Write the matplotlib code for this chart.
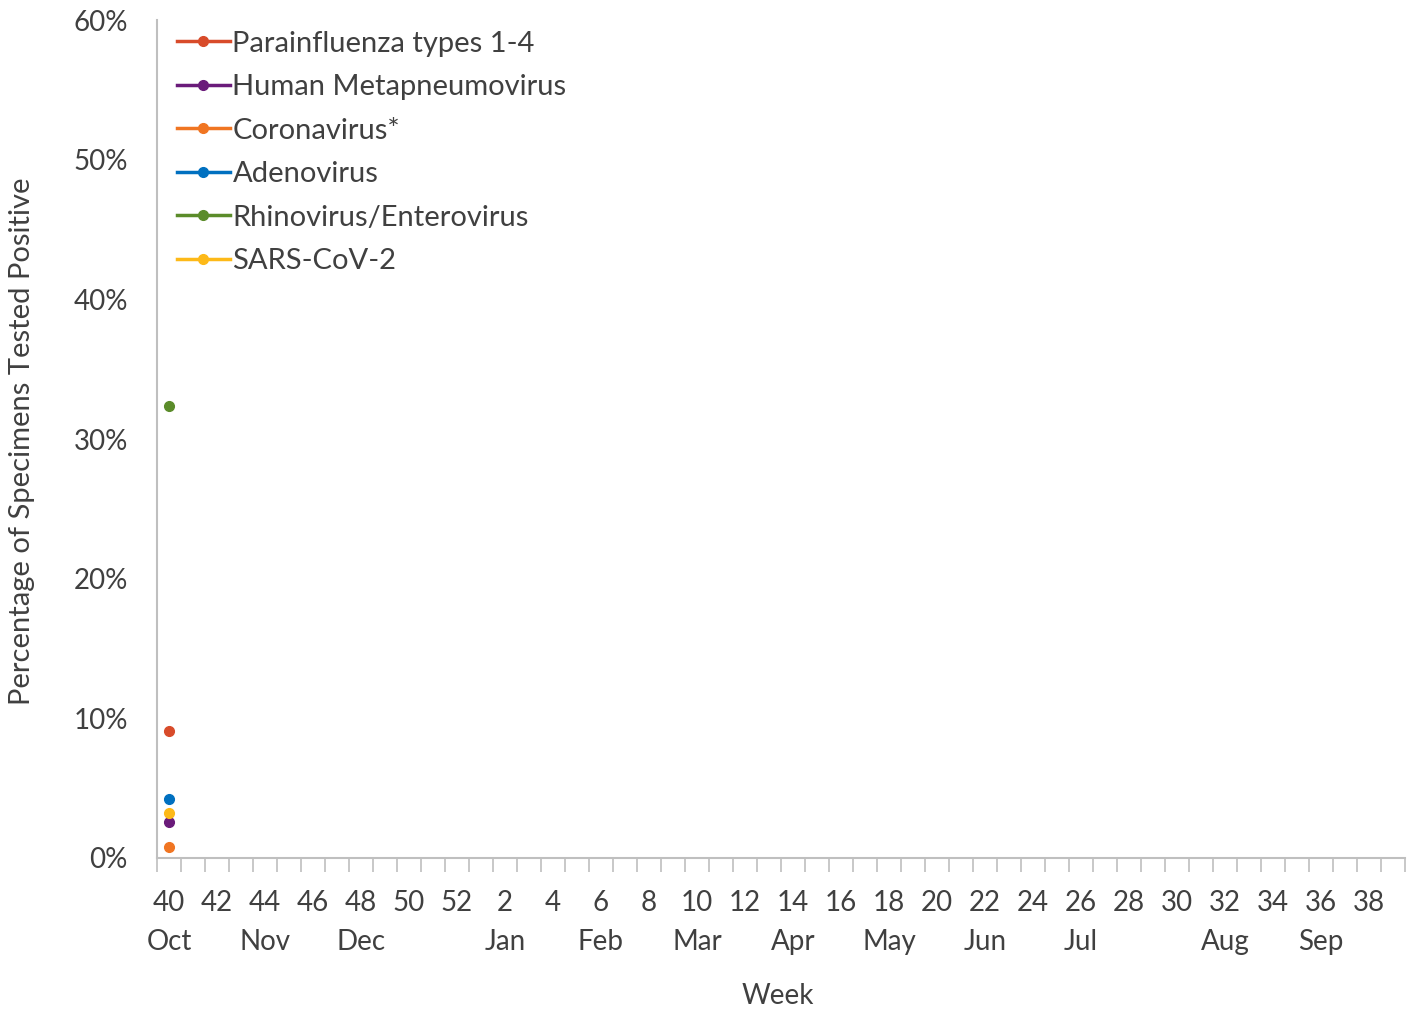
import numpy as np
import matplotlib.pyplot as plt
from matplotlib.transforms import blended_transform_factory

# -----------------------------
# Data
# -----------------------------
weeks = list(range(40, 53)) + list(range(1, 40))
week_labels = [str(w) if w % 2 == 0 else "" for w in weeks]
month_weeks = [40, 44, 48, 2, 6, 10, 14, 18, 22, 26, 32, 36]
month_names = ["Oct", "Nov", "Dec", "Jan", "Feb", "Mar", "Apr", "May", "Jun", "Jul", "Aug", "Sep"]

series_names = [
    "Parainfluenza types 1-4",
    "Human Metapneumovirus",
    "Coronavirus*",
    "Adenovirus",
    "Rhinovirus/Enterovirus",
    "SARS-CoV-2",
]
series_colors = ["#D84B2A", "#6A1B7A", "#F07522", "#0070C0", "#5B8C2A", "#FDB918"]

# only week 40 reported so far (percent positive)
parainfluenza = [9.1]
metapneumo = [2.6]
coronavirus = [0.8]
adenovirus = [4.2]
rhino_entero = [32.4]
sars_cov2 = [3.2]
series_values = [parainfluenza, metapneumo, coronavirus, adenovirus, rhino_entero, sars_cov2]

# -----------------------------
# Style
# -----------------------------
plt.rcParams["font.family"] = ["Lato", "DejaVu Sans"]
text_color = "#404040"
axis_color = "#BFBFBF"
fs = 20

fig = plt.figure(figsize=(14.17, 10.10), dpi=100)
ax = fig.add_axes([0.1108, 0.1505, 0.8807, 0.8295])

x = np.arange(len(weeks))
for name, color, vals in zip(series_names, series_colors, series_values):
    y = np.full(len(weeks), np.nan)
    y[: len(vals)] = vals
    ax.plot(x, y, color=color, marker="o", markersize=7, linewidth=2.5, label=name)

ax.set_xlim(-0.5, len(weeks) - 0.5)
ax.set_ylim(0, 60)
ax.set_yticks(range(0, 61, 10))
ax.set_yticklabels([f"{v}%" for v in range(0, 61, 10)])
ax.tick_params(axis="y", length=0, labelsize=fs, labelcolor=text_color, pad=21)

# ticks between categories, labels at centers
ax.set_xticks(np.arange(-0.5, len(weeks), 1.0))
ax.set_xticklabels([])
ax.tick_params(axis="x", which="major", length=10, width=1.2, color=axis_color)
ax.set_xticks(x, minor=True)
ax.set_xticklabels(week_labels, minor=True)
ax.tick_params(axis="x", which="minor", length=0, labelsize=fs, labelcolor=text_color, pad=23)

trans = blended_transform_factory(ax.transData, ax.transAxes)
for w, m in zip(month_weeks, month_names):
    ax.text(weeks.index(w), -0.1, m, transform=trans, ha="center", va="center",
            fontsize=fs, color=text_color)

for side in ["top", "right"]:
    ax.spines[side].set_visible(False)
for side in ["left", "bottom"]:
    ax.spines[side].set_color(axis_color)
    ax.spines[side].set_linewidth(1.5)

fig.text(22 / 1417, 1 - 441 / 1010, "Percentage of Specimens Tested Positive", rotation=90,
         ha="center", va="center", fontsize=21, color=text_color)
fig.text(0.549, 1 - 996 / 1010, "Week", ha="center", va="center", fontsize=fs, color=text_color)

ax.legend(loc="upper left", bbox_to_anchor=(-0.005, 1.019), frameon=False, fontsize=21,
          handlelength=1.8, handletextpad=0.1, labelspacing=0.6, labelcolor=text_color)

fig.savefig("out.png", dpi=100)
